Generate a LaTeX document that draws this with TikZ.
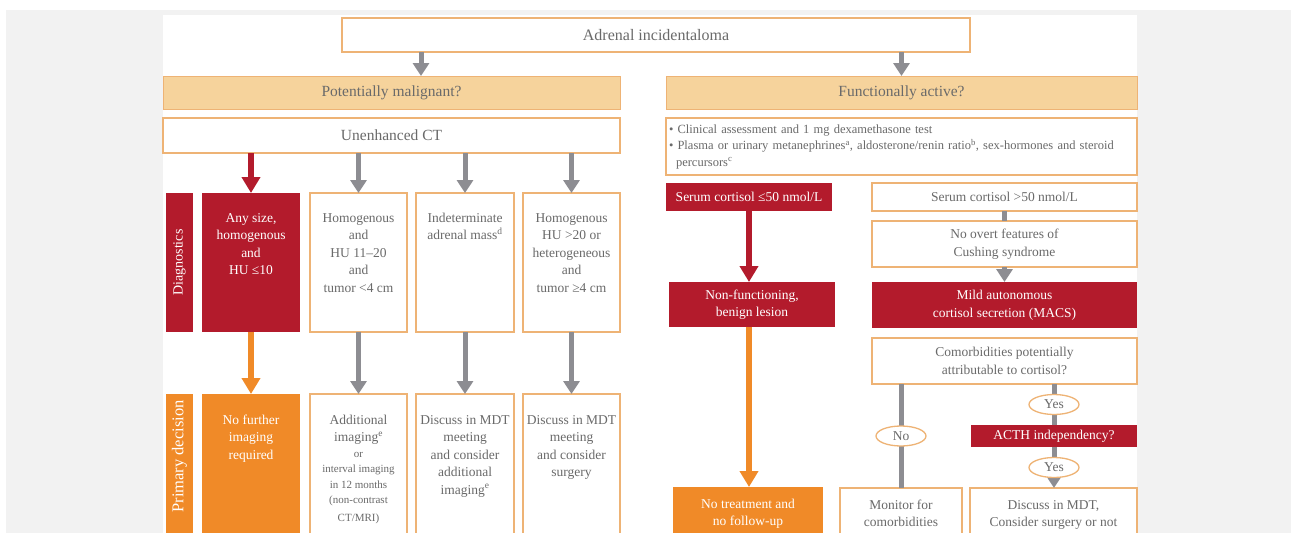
\documentclass[tikz,border=0pt]{standalone}
\usepackage{fontspec}
\setmainfont{Liberation Serif}
\usepackage[HTML]{xcolor}
\usetikzlibrary{positioning, arrows.meta, shapes.geometric}

\definecolor{redbox}{HTML}{B31B2C}
\definecolor{orangebox}{HTML}{F08A28}
\definecolor{tanbox}{HTML}{F6D39C}
\definecolor{boxline}{HTML}{EEB375}
\definecolor{arrowgray}{HTML}{8D8D92}
\definecolor{txtgray}{HTML}{6A6A6A}
\definecolor{bggray}{HTML}{F2F2F2}

\newcommand{\fstitle}{\fontsize{16}{19}\selectfont}
\newcommand{\fshead}{\fontsize{15.5}{18}\selectfont}
\newcommand{\fsbox}{\fontsize{13.5}{17.5}\selectfont}
\newcommand{\fssmall}{\fontsize{11}{15.5}\selectfont}
\newcommand{\fsinfo}{\fontsize{12.5}{16.5}\selectfont}
\newcommand{\fsside}{\fontsize{14}{16}\selectfont}

\begin{document}
\begin{tikzpicture}[x=1pt,y=-1pt,
  every node/.style={inner sep=0pt,outer sep=0pt},
  wbox/.style={draw=boxline,line width=1.3pt,fill=white,text=txtgray,align=flush center},
  rbox/.style={fill=redbox,text=white,align=flush center},
  obox/.style={fill=orangebox,text=white,align=flush center},
  hbox/.style={draw=boxline,line width=0.8pt,fill=tanbox,text=txtgray,font=\fshead},
  dcol/.style={anchor=north west,text width=#1,minimum width=#1,text height=29pt,text depth=110pt,font=\fsbox},
  pcol/.style={anchor=north west,text width=#1,minimum width=#1,text height=30pt,text depth=121pt,font=\fsbox},
  rcol/.style={anchor=north west,minimum width=#1,font=\fsbox},
  oval/.style={ellipse,draw=boxline,line width=1.3pt,fill=white,text=txtgray,minimum width=50pt,minimum height=20pt,font=\fsbox},
  garrow/.style={draw=arrowgray,line width=5pt,-{Triangle[width=16pt,length=13pt]}},
  rarrow/.style={draw=redbox,line width=5.5pt,-{Triangle[width=18pt,length=16pt]}},
  oarrow/.style={draw=orangebox,line width=5.5pt,-{Triangle[width=18pt,length=16pt]}},
  gline/.style={draw=arrowgray,line width=5pt}]

\useasboundingbox (0,0) rectangle (1291,533);
\clip (0,0) rectangle (1291,533);
\fill[white] (0,0) rectangle (1291,533);
\fill[bggray] (6,10) rectangle (1291,533);
\fill[white] (163,15) rectangle (1137,533);

% top
\node[wbox,anchor=north west,minimum width=628pt,minimum height=34pt,font=\fstitle] (incid) at (342,18) {Adrenal incidentaloma};
\node[hbox,anchor=north west,minimum width=457pt,minimum height=33pt] (malig) at (163,76) {Potentially malignant?};
\node[hbox,anchor=north west,minimum width=471pt,minimum height=33pt] (funct) at (666,76) {Functionally active?};
\node[wbox,anchor=north west,minimum width=457pt,minimum height=35pt,font=\fshead] (unenh) at (163,118) {Unenhanced CT};
\node[wbox,anchor=north west,minimum width=471pt,minimum height=57pt,text width=465pt,align=left,inner xsep=3pt,font=\fsinfo] (tests) at (666,118)
  {\textbullet\ Clinical assessment and 1 mg dexamethasone test\\
   \textbullet\ Plasma or urinary metanephrines\textsuperscript{a}, aldosterone/renin ratio\textsuperscript{b}, sex-hormones and steroid\\
   \hspace*{7pt}percursors\textsuperscript{c}};

% left: diagnostics
\node[rbox,rotate=90,minimum width=139pt,minimum height=27pt,font=\fsside] (diaglab) at (179.5,262.5) {Diagnostics};
\node[rbox,dcol=98pt] (anysize) at (202,193) {Any size,\\ homogenous\\ and\\ HU ≤10};
\node[wbox,dcol=97pt] (homog) at (310,193) {Homogenous\\ and\\ HU 11–20\\ and\\ tumor <4 cm};
\node[wbox,dcol=98pt] (indet) at (416,193) {Indeterminate\\ adrenal mass\textsuperscript{d}};
\node[wbox,dcol=97pt] (hetero) at (523,193) {Homogenous\\ HU >20 or\\ heterogeneous\\ and\\ tumor ≥4 cm};

% left: primary decision
\node[obox,rotate=90,minimum width=151pt,minimum height=27pt,font=\fontsize{16.5}{18}\selectfont] (primlab) at (179.5,469.5) {\hspace*{26pt}Primary decision};
\node[obox,pcol=98pt] (nofurther) at (202,394) {No further\\ imaging\\ required};
\node[wbox,pcol=97pt] (addimg) at (310,394) {Additional\\ imaging\textsuperscript{e}\par
  \fssmall or\\ interval imaging\\ in 12 months\\ (non-contrast\\ CT/MRI)};
\node[wbox,pcol=98pt] (mdtimg) at (416,394) {Discuss in MDT\\ meeting\\ and consider\\ additional\\ imaging\textsuperscript{e}};
\node[wbox,pcol=97pt] (mdtsurg) at (523,394) {Discuss in MDT\\ meeting\\ and consider\\ surgery};

% right
\node[rbox,rcol=166pt,minimum height=28pt] (low) at (666,183) {Serum cortisol ≤50 nmol/L};
\node[wbox,rcol=265pt,minimum height=28pt] (high) at (872,183) {Serum cortisol >50 nmol/L};
\node[wbox,rcol=265pt,minimum height=46pt] (noovert) at (872,221) {No overt features of\\ Cushing syndrome};
\node[rbox,rcol=166pt,minimum height=45pt] (nonfunc) at (669,282) {Non-functioning,\\ benign lesion};
\node[rbox,rcol=265pt,minimum height=46pt] (macs) at (872,282) {Mild autonomous\\ cortisol secretion (MACS)};
\node[wbox,rcol=265pt,minimum height=46pt] (comorb) at (872,338) {Comorbidities potentially\\ attributable to cortisol?};
\node[rbox,rcol=166pt,minimum height=22pt] (acth) at (971,425) {ACTH independency?};
\node[obox,anchor=north west,text width=150pt,text height=21pt,text depth=37pt,font=\fsbox] (notreat) at (673,487) {No treatment and\\ no follow-up};
\node[wbox,anchor=north west,text width=122pt,text height=21pt,text depth=36pt,font=\fsbox] (monitor) at (840,488) {Monitor for\\ comorbidities};
\node[wbox,anchor=north west,text width=167pt,text height=21pt,text depth=36pt,font=\fsbox] (discuss) at (970,488) {Discuss in MDT,\\ Consider surgery or not};

% connectors
\coordinate (lcol) at (421,0);
\draw[garrow] (incid.south -| lcol) -- (malig.north -| lcol);
\draw[garrow] (incid.south -| funct.north) -- (funct.north);
\draw[rarrow] (unenh.south -| anysize.north) -- (anysize.north);
\foreach \n in {homog,indet,hetero}
  \draw[garrow] (unenh.south -| \n.north) -- (\n.north);
\draw[oarrow] (anysize.south) -- (nofurther.north);
\foreach \a/\b in {homog/addimg,indet/mdtimg,hetero/mdtsurg}
  \draw[garrow] (\a.south) -- (\b.north);

\draw[rarrow] (low.south) -- (low.south |- nonfunc.north);
\draw[oarrow] (low.south |- nonfunc.south) -- (low.south |- notreat.north);
\draw[gline] (high.south) -- (noovert.north);
\draw[garrow] (noovert.south) -- (macs.north);
\draw[gline] (comorb.south -| monitor.north) -- node[oval] (no) {No} (monitor.north);
\draw[gline] (comorb.south -| acth.north) -- node[oval] (yes1) {Yes} (acth.north);
\draw[garrow] (acth.south) -- node[oval] (yes2) {Yes} (acth.south |- discuss.north);
\end{tikzpicture}
\end{document}
